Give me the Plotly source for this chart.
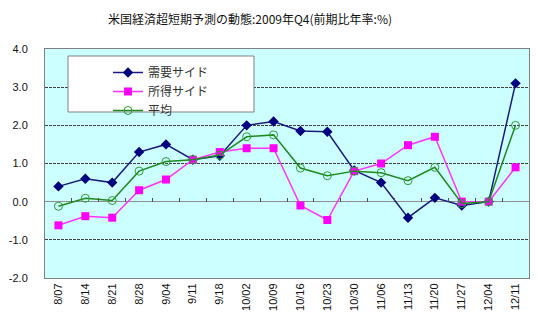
import plotly.graph_objects as go

dates = ["8/07", "8/14", "8/21", "8/28", "9/04", "9/11", "9/18", "10/02", "10/09",
         "10/16", "10/23", "10/30", "11/06", "11/13", "11/20", "11/27", "12/04", "12/11"]
demand = [0.4, 0.6, 0.5, 1.3, 1.5, 1.1, 1.2, 2.0, 2.1, 1.85, 1.83, 0.82, 0.5, -0.42, 0.1, -0.1, 0.0, 3.1]
income = [-0.62, -0.38, -0.42, 0.3, 0.58, 1.1, 1.3, 1.4, 1.4, -0.1, -0.48, 0.8, 1.0, 1.48, 1.7, 0.0, 0.0, 0.9]
average = [-0.12, 0.09, 0.03, 0.8, 1.05, 1.1, 1.22, 1.7, 1.75, 0.88, 0.68, 0.8, 0.76, 0.55, 0.9, -0.05, 0.0, 2.0]
yticks = [-2, -1, 0, 1, 2, 3, 4]
ytext = ["-2.0", "-1.0", "0.0", "1.0", "2.0", "3.0", "4.0"]

W, H = 538, 330
L, R, T, B = 45, 9, 49, 52
ymin, ymax = -2, 4

jp = "Noto Sans CJK JP, Liberation Sans, sans-serif"
num = "Liberation Sans, Arial, sans-serif"

fig = go.Figure()
fig.add_trace(go.Scatter(x=dates, y=demand, name="需要サイド", mode="lines+markers",
                         line=dict(color="#1a1a80", width=1.5),
                         marker=dict(symbol="diamond", size=8, color="#000080")))
fig.add_trace(go.Scatter(x=dates, y=income, name="所得サイド", mode="lines+markers",
                         line=dict(color="#ff33ff", width=1.5),
                         marker=dict(symbol="square", size=8, color="#ff00ff")))
fig.add_trace(go.Scatter(x=dates, y=average, name="平均", mode="lines+markers",
                         line=dict(color="#1f8a1f", width=1.5),
                         marker=dict(symbol="circle-open", size=8, color="#2e9e2e",
                                     line=dict(width=1))))
# invisible trace to carry the category tick marks on the zero line
fig.add_trace(go.Scatter(x=dates, y=[0] * len(dates), xaxis="x2", mode="none",
                         showlegend=False, hoverinfo="skip"))

plot_w = W - L - R
plot_h = H - T - B
leg_x0 = (68 - L) / plot_w
leg_x1 = (254 - L) / plot_w
leg_y1 = (H - B - 56) / plot_h
leg_y0 = (H - B - 112) / plot_h

fig.update_layout(
    width=W, height=H,
    margin=dict(l=L, r=R, t=T, b=B),
    paper_bgcolor="white",
    plot_bgcolor="#ccffff",
    title=dict(text="米国経済超短期予測の動態:2009年Q4(前期比年率:%)",
               x=250 / W, xanchor="center", y=1 - 20 / H, yanchor="middle",
               font=dict(family=jp, size=12, color="#111")),
    xaxis=dict(type="category", categoryorder="array", categoryarray=dates,
               range=[-0.5, len(dates) - 0.5],
               showgrid=False, ticks="", tickangle=-90,
               tickfont=dict(family=num, size=11, color="#111"),
               showline=True, linecolor="#808080", linewidth=1, mirror=True),
    xaxis2=dict(type="category", categoryorder="array", categoryarray=dates,
                range=[-0.5, len(dates) - 0.5], overlaying="x",
                anchor="free", position=(0 - ymin) / (ymax - ymin), side="bottom",
                ticks="inside", tickson="boundaries", ticklen=4, tickcolor="#505050",
                showticklabels=False, showgrid=False, showline=False),
    yaxis=dict(range=[ymin, ymax], tickvals=yticks, ticktext=ytext,
               tickfont=dict(family=num, size=11, color="#111"),
               ticks="", ticklabelstandoff=14,
               showgrid=True, gridcolor="#404040", griddash="3px,1px", gridwidth=1,
               zeroline=True, zerolinecolor="#909090", zerolinewidth=1,
               showline=True, linecolor="#808080", linewidth=1, mirror=True),
    shapes=[dict(type="rect", xref="paper", yref="paper",
                 x0=leg_x0, x1=leg_x1, y0=leg_y0, y1=leg_y1,
                 fillcolor="white", line=dict(color="#808080", width=1),
                 layer="above")],
    legend=dict(x=(108 - L) / plot_w, y=leg_y1 - 2 / plot_h, xanchor="left", yanchor="top",
                bgcolor="rgba(0,0,0,0)", borderwidth=0,
                font=dict(family=jp, size=12, color="#333"),
                itemwidth=30, tracegroupgap=0),
    showlegend=True,
)

fig.write_html("out.html")
